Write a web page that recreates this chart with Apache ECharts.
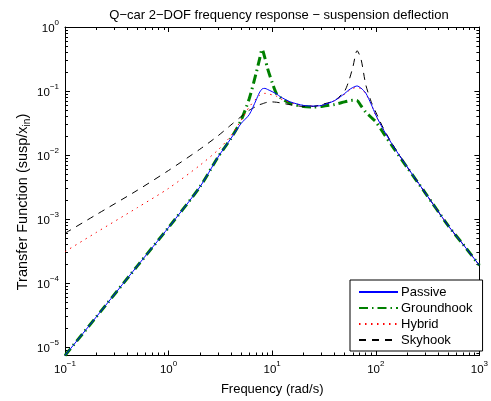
<!DOCTYPE html>
<html>
<head>
<meta charset="utf-8">
<script src="https://cdn.jsdelivr.net/npm/echarts@6/dist/echarts.min.js"></script>
<style>html,body{margin:0;padding:0;background:#fff}#c{width:491px;height:401px}</style>
</head>
<body>
<div id="c"></div>
<script>
// Frequencies (rad/s)
const freq = [0.1, 0.2, 0.5, 1, 2, 3, 4, 5, 6, 7, 7.5, 8, 8.5, 9, 10, 11, 12, 15, 20, 25, 30, 40, 50, 55, 60, 66, 72, 80, 90, 100, 120, 150, 200, 300, 500, 700, 1000];
// Transfer function magnitudes
const passive = [7.41e-6, 2.95e-5, 1.86e-4, 7.41e-4, 3.16e-3, 9.3e-3, 0.0182, 0.031, 0.0427, 0.0724, 0.0933, 0.108, 0.110, 0.106, 0.0977, 0.0902, 0.0813, 0.0676, 0.0596, 0.0582, 0.0596, 0.0708, 0.0912, 0.104, 0.1135, 0.120, 0.111, 0.093, 0.063, 0.0422, 0.024, 0.0132, 6.6e-3, 2.57e-3, 7.9e-4, 3.98e-4, 1.9e-4];
const groundhook = [7.41e-6, 2.95e-5, 1.86e-4, 7.41e-4, 3.16e-3, 9.3e-3, 0.0182, 0.0347, 0.0759, 0.19, 0.30, 0.447, 0.33, 0.229, 0.135, 0.091, 0.079, 0.0638, 0.0575, 0.0562, 0.0575, 0.0617, 0.0676, 0.070, 0.0716, 0.0708, 0.0589, 0.0468, 0.0389, 0.0331, 0.0214, 0.0126, 6.46e-3, 2.57e-3, 7.9e-4, 3.98e-4, 1.9e-4];
const hybrid = [3.1e-4, 6.17e-4, 1.51e-3, 3.02e-3, 6.9e-3, 0.012, 0.020, 0.0347, 0.0562, 0.0759, 0.0851, 0.090, 0.092, 0.091, 0.087, 0.083, 0.0759, 0.066, 0.0596, 0.0582, 0.0596, 0.0708, 0.0891, 0.101, 0.1096, 0.115, 0.108, 0.091, 0.063, 0.0417, 0.024, 0.0132, 6.6e-3, 2.57e-3, 7.9e-4, 3.98e-4, 1.9e-4];
const skyhook = [6.0e-4, 1.17e-3, 2.82e-3, 5.75e-3, 0.0123, 0.020, 0.0295, 0.0398, 0.050, 0.0575, 0.061, 0.063, 0.0653, 0.0668, 0.0676, 0.0668, 0.0653, 0.061, 0.0575, 0.0575, 0.0617, 0.0708, 0.10, 0.145, 0.234, 0.427, 0.316, 0.126, 0.069, 0.0468, 0.0251, 0.0135, 6.6e-3, 2.57e-3, 7.9e-4, 3.98e-4, 1.9e-4];
const seriesNames = ['Passive', 'Groundhook', 'Hybrid', 'Skyhook'];
const xRange = [0.1, 1000];
const yRange = [7.4e-6, 1];

const FONT = '"Liberation Sans", Arial, Helvetica, sans-serif';
function pow10Label(v) {
  const l = Math.log10(v);
  const e = Math.round(l);
  if (Math.abs(l - e) > 1e-6) return '';
  return '{b|10}{s|' + (e < 0 ? '\u2212' + (-e) : e) + '}';
}
const labelRich = {
  b: {fontSize: 11.5, fontFamily: FONT, color: '#000', verticalAlign: 'bottom', lineHeight: 16},
  s: {fontSize: 8, fontFamily: FONT, color: '#000', verticalAlign: 'top', lineHeight: 16, padding: [0, 0, 6, 0]}
};
function mkAxis(type, pos, show) {
  return {
    type: 'log', logBase: 10, position: pos,
    min: type === 'x' ? xRange[0] : yRange[0],
    max: type === 'x' ? xRange[1] : yRange[1],
    axisLine: {show: true, onZero: false, lineStyle: {color: '#000', width: 1}},
    axisTick: {show: true, inside: true, length: 5, lineStyle: {color: '#000', width: 1}},
    minorTick: {show: true, splitNumber: 9, length: 3, lineStyle: {color: '#000', width: 1}},
    splitLine: {show: false},
    minorSplitLine: {show: false},
    axisLabel: {show: show, formatter: pow10Label, rich: labelRich, margin: type === 'x' ? 4 : 6, hideOverlap: false, showMinLabel: true, showMaxLabel: true},
  };
}
const toPairs = arr => freq.map((f, i) => [f, arr[i]]);

const chart = echarts.init(document.getElementById('c'), null, {renderer: 'canvas'});
chart.setOption({
  animation: false,
  backgroundColor: '#fff',
  title: {
    text: 'Q\u2212car 2\u2212DOF frequency response \u2212 suspension deflection',
    left: 274, top: 4, textAlign: 'center',
    textStyle: {fontSize: 13, fontWeight: 'normal', fontFamily: FONT, color: '#000'}
  },
  grid: {left: 65, right: 7, top: 27, bottom: 45.5, containLabel: false},
  xAxis: [
    Object.assign(mkAxis('x', 'bottom', true), {name: 'Frequency (rad/s)', nameLocation: 'middle', nameGap: 27,
      nameTextStyle: {fontSize: 13, fontFamily: FONT, color: '#000'}}),
    mkAxis('x', 'top', false)
  ],
  yAxis: [mkAxis('y', 'left', true), mkAxis('y', 'right', false)],
  graphic: [{
    type: 'text', x: 24, y: 202, rotation: Math.PI / 2,
    style: {
      text: '{m|Transfer Function (susp/x}{sub|in}{m|)}',
      align: 'center', verticalAlign: 'middle',
      rich: {
        m: {fontSize: 14.5, fontFamily: FONT, fill: '#000', verticalAlign: 'top', lineHeight: 17},
        sub: {fontSize: 10, fontFamily: FONT, fill: '#000', verticalAlign: 'bottom', lineHeight: 17, padding: [7, 0, 0, 0]}
      }
    }
  }],
  legend: {
    orient: 'vertical', left: 350, top: 280,
    padding: [5, 10, 4, 8],
    itemWidth: 39, itemHeight: 10, itemGap: 2,
    borderColor: '#000', borderWidth: 1, backgroundColor: '#fff',
    itemStyle: {opacity: 0},
    textStyle: {fontSize: 13, fontFamily: FONT, color: '#000', lineHeight: 14, padding: [0, 0, 0, -2]},
    data: seriesNames
  },
  series: [
    {name: seriesNames[0], type: 'line', data: toPairs(passive), symbol: 'none', smooth: 0.25, z: 5,
      lineStyle: {color: '#0000ff', width: 1}, itemStyle: {color: '#0000ff'}},
    {name: seriesNames[1], type: 'line', data: toPairs(groundhook), symbol: 'none', smooth: 0.25, z: 3,
      lineStyle: {color: '#008000', width: 3, type: [9, 4, 1.5, 4]}, itemStyle: {color: '#008000'}},
    {name: seriesNames[2], type: 'line', data: toPairs(hybrid), symbol: 'none', smooth: 0.25, z: 4,
      lineStyle: {color: '#ff0000', width: 1, type: [1.5, 4.5]}, itemStyle: {color: '#ff0000'}},
    {name: seriesNames[3], type: 'line', data: toPairs(skyhook), symbol: 'none', smooth: 0.25, z: 4,
      lineStyle: {color: '#000000', width: 1, type: [7, 6]}, itemStyle: {color: '#000'}}
  ]
});
</script>
</body>
</html>
